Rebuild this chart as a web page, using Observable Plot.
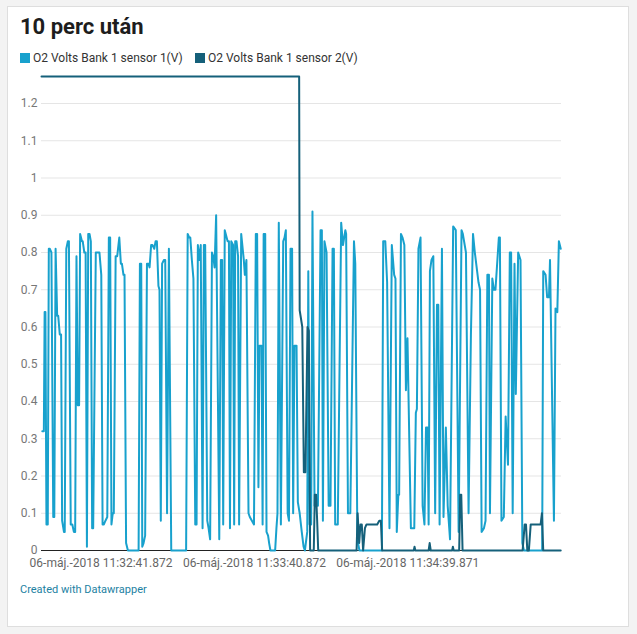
<!DOCTYPE html>
<html>
<head>
<meta charset="utf-8">
<script src="https://cdn.jsdelivr.net/npm/d3@7"></script>
<script src="https://cdn.jsdelivr.net/npm/@observablehq/plot@0.6"></script>
<style>
  html, body { margin: 0; padding: 0; background: #f3f3f3; font-family: Roboto, "Noto Sans", sans-serif; }
  #page { position: relative; width: 637px; height: 634px; overflow: hidden; }
  #card { position: absolute; left: 7px; top: 6px; width: 620px; height: 619px; background: #fff; border: 1px solid #dedede; }
  #title { position: absolute; left: 20px; top: 14px; font-size: 22px; font-weight: 700; color: #1d1d1d; white-space: nowrap; }
  .leg { position: absolute; top: 51px; font-size: 12px; color: #333; white-space: nowrap; line-height: 14px; }
  .sw { display: inline-block; width: 10px; height: 10px; margin-right: 3px; vertical-align: -1px; }
  #chart { position: absolute; left: 0; top: 70px; }
  #footer { position: absolute; left: 20px; top: 583px; font-size: 11px; color: #1d81a2; white-space: nowrap; }
</style>
</head>
<body>
<div id="page">
  <div id="card"></div>
  <div id="title"></div>
  <div id="leg1" class="leg" style="left:20px"></div>
  <div id="leg2" class="leg" style="left:195px"></div>
  <div id="chart"></div>
  <div id="footer">Created with Datawrapper</div>
</div>
<script>
const title = "10 perc után";
const seriesNames = ["O2 Volts Bank 1 sensor 1(V)", "O2 Volts Bank 1 sensor 2(V)"];
const seriesColors = ["#18a1cd", "#15607a"];

// [seconds since start, volts]
const sensor1 = [
  [0.3,0.32],[0.9,0.32],[1.2,0.64],[1.5,0.64],[1.9,0.07],[2.4,0.07],[2.8,0.81],[3.2,0.81],[3.8,0.80],[4.5,0.09],
  [4.9,0.09],[5.4,0.81],[6.0,0.63],[6.4,0.63],[7.0,0.58],[7.5,0.58],[7.9,0.08],[8.6,0.05],[8.9,0.05],[9.5,0.81],
  [10.1,0.83],[10.5,0.83],[11.2,0.07],[11.8,0.07],[12.4,0.05],[12.9,0.05],[13.4,0.79],[13.9,0.39],[14.4,0.39],[14.8,0.85],
  [15.5,0.83],[15.8,0.83],[16.4,0.80],[16.9,0.80],[17.4,0.01],[17.9,0.85],[18.4,0.85],[18.9,0.83],[19.4,0.06],[19.8,0.06],
  [20.8,0.80],[21.5,0.80],[22.2,0.80],[22.9,0.74],[23.4,0.07],[23.9,0.07],[24.5,0.08],[25.2,0.09],[25.8,0.84],[26.3,0.84],
  [26.8,0.07],[27.3,0.10],[27.7,0.10],[28.4,0.79],[29.0,0.79],[29.8,0.84],[30.4,0.77],[30.8,0.77],[31.4,0.74],[31.8,0.74],
  [32.4,0.02],[33.1,0],[37.2,0],[37.7,0.77],[38.2,0.77],[38.6,0.01],[39.1,0.02],[39.7,0.04],[40.4,0.77],[41.0,0.77],
  [41.4,0.76],[42.0,0.82],[42.5,0.82],[43.2,0.81],[43.7,0.83],[44.2,0.83],[44.8,0.71],[45.2,0.70],[45.7,0.08],[46.2,0.77],
  [46.9,0.78],[47.4,0.78],[48.1,0.10],[48.8,0.81],[49.7,0],[55.4,0],[56.0,0.85],[56.6,0.84],[57.0,0.84],[57.6,0.78],
  [58.2,0.73],[58.9,0.07],[59.4,0.07],[59.9,0.82],[60.4,0.78],[61.0,0.82],[61.7,0.06],[62.2,0.82],[62.7,0.82],[63.5,0.08],
  [64.0,0.06],[64.6,0.03],[65.3,0.80],[65.8,0.79],[66.3,0.76],[66.9,0.90],[68.1,0.03],[68.7,0.78],[69.2,0.78],[69.6,0.07],
  [70.2,0.86],[71.3,0.83],[71.8,0.83],[72.2,0.06],[72.7,0.83],[73.4,0.82],[73.8,0.07],[74.2,0.83],[74.7,0.83],[75.3,0.79],
  [75.7,0.07],[76.5,0.85],[77.5,0.78],[77.9,0.74],[78.5,0.78],[79.3,0.10],[79.8,0.09],[80.6,0.08],[81.4,0.07],[82.1,0.85],
  [82.6,0.85],[83.1,0.17],[83.5,0.55],[84.3,0.55],[84.7,0.07],[85.1,0.85],[85.7,0.85],[86.2,0.05],[86.8,0.04],[87.2,0.02],
  [87.7,0],[89.5,0],[90.0,0.06],[90.4,0.10],[90.9,0.88],[91.7,0.07],[92.6,0.83],[93.1,0.84],[93.6,0.86],[94.3,0.10],
  [94.8,0.08],[95.4,0.81],[96.0,0.81],[96.4,0.10],[96.9,0.55],[97.7,0.55],[98.2,0.13],[98.9,0.10],[99.7,0.05],[100.4,0.01],
  [100.9,0],[101.8,0.05],[102.2,0.75],[102.7,0.07],[103.3,0.07],[103.8,0.91],[104.6,0.12],[105.9,0.12],[106.9,0.86],[107.4,0.86],
  [107.8,0.08],[108.4,0.83],[109.2,0.80],[110.0,0.12],[110.7,0.12],[111.5,0.81],[112.0,0.81],[112.5,0.07],[113.5,0.07],[114.8,0.88],
  [115.5,0.82],[116.4,0.86],[116.7,0.85],[117.4,0.10],[118.3,0.10],[119.7,0.83],[120.2,0.77],[121.0,0.03],[121.8,0],[130.4,0],
  [130.9,0.83],[131.7,0.83],[132.4,0.72],[133.3,0.06],[134.2,0.82],[135.1,0.74],[135.6,0.73],[136.1,0.05],[136.7,0.15],[137.0,0.15],
  [137.7,0.85],[138.3,0.84],[139.0,0.82],[139.6,0.43],[140.2,0.57],[141.5,0.06],[142.8,0.06],[143.4,0.37],[143.8,0.38],[144.4,0.81],
  [145.2,0.84],[146.0,0.12],[146.7,0.07],[147.3,0.33],[147.9,0.33],[148.3,0.07],[148.8,0.75],[149.4,0.78],[150.1,0.79],[150.8,0.10],
  [151.5,0.66],[152.0,0.66],[152.5,0.07],[153.4,0.81],[154.0,0.09],[154.9,0.33],[155.6,0.12],[156.5,0.03],[157.7,0.87],[158.7,0.86],
  [159.8,0.05],[160.9,0.86],[161.4,0.85],[162.6,0.80],[163.6,0.10],[164.5,0.58],[165.3,0.85],[166.0,0.80],[167.4,0.72],[168.0,0.70],
  [168.6,0.05],[169.5,0.06],[170.1,0.08],[170.8,0.74],[171.4,0.74],[171.8,0.10],[172.7,0.73],[173.3,0.70],[173.9,0.70],[175.2,0.84],
  [175.6,0.84],[176.2,0.08],[177.1,0.09],[177.8,0.36],[178.7,0.23],[179.4,0.80],[179.9,0.80],[180.5,0.10],[181.2,0.77],[181.7,0.42],
  [182.6,0.80],[183.5,0.78],[184.2,0.02],[184.8,0],[191.8,0],[192.2,0.75],[193.1,0.74],[193.7,0.68],[194.4,0.68],[194.8,0.78],
  [196.3,0.08],[196.9,0.65],[197.6,0.64],[198.2,0.83],[198.9,0.81]
];

const sensor2 = [
  [0,1.2725],[98.7,1.2725],[98.9,0.645],[99.9,0.60],[100.5,0.21],[101.1,0.21],[101.9,0.60],[102.4,0.59],[102.9,0],[104.3,0],
  [104.7,0.15],[105.2,0.15],[105.6,0.08],[106.0,0],[120.7,0],[121.1,0.10],[121.7,0.02],[122.2,0.07],[122.7,0.07],[123.2,0],
  [123.9,0.06],[124.5,0.07],[128.6,0.07],[129.4,0.08],[130.0,0.08],[130.5,0],[142.6,0],[142.9,0.01],[143.2,0],[148.3,0],
  [148.7,0.02],[149.1,0],[157.3,0],[157.6,0.01],[157.9,0],[160.0,0],[160.4,0.15],[160.8,0.15],[161.3,0],[184.3,0],
  [185.1,0.07],[185.6,0.07],[186.1,0],[186.7,0],[187.4,0.07],[191.2,0.07],[191.7,0.10],[192.2,0],[198.9,0]
];

const yTicks = [0, 0.1, 0.2, 0.3, 0.4, 0.5, 0.6, 0.7, 0.8, 0.9, 1, 1.1, 1.2];
const yTickLabels = ["0","0.1","0.2","0.3","0.4","0.5","0.6","0.7","0.8","0.9","1","1.1","1.2"];
const xTickPositions = [22.8, 81.6, 140.3];
const xTickLabels = ["06-máj.-2018 11:32:41.872", "06-máj.-2018 11:33:40.872", "06-máj.-2018 11:34:39.871"];

document.getElementById("title").textContent = title;
[["leg1",0],["leg2",1]].forEach(([id,i]) => {
  const el = document.getElementById(id);
  const sw = document.createElement("span");
  sw.className = "sw"; sw.style.background = seriesColors[i];
  el.appendChild(sw);
  el.appendChild(document.createTextNode(seriesNames[i]));
});

const yMax = d3.max(sensor2, d => d[1]);
const xMax = 199.2;

const chart = Plot.plot({
  width: 637,
  height: 510,
  marginLeft: 41,
  marginRight: 76,
  marginTop: 6,
  marginBottom: 30,
  style: { fontFamily: "Roboto, sans-serif", fontSize: "12px", background: "transparent", overflow: "visible" },
  x: { domain: [0, xMax], axis: null },
  y: { domain: [0, yMax], axis: null },
  marks: [
    Plot.gridY(yTicks.filter(d => d > 0), { stroke: "#e5e5e5", strokeOpacity: 1 }),
    Plot.axisY(yTicks, { tickSize: 0, tickPadding: 4, fill: "#777", tickFormat: d => yTickLabels[yTicks.indexOf(d)] }),
    Plot.axisX(xTickPositions, { tickSize: 0, tickPadding: 8, fill: "#666", tickFormat: d => xTickLabels[xTickPositions.indexOf(d)] }),
    Plot.ruleY([0], { stroke: "#222", strokeWidth: 1 }),
    Plot.line(sensor1, { x: d => d[0], y: d => d[1], stroke: seriesColors[0], strokeWidth: 2, strokeLinejoin: "round" }),
    Plot.line(sensor2, { x: d => d[0], y: d => d[1], stroke: seriesColors[1], strokeWidth: 2, strokeLinejoin: "round" })
  ]
});
document.getElementById("chart").appendChild(chart);
</script>
</body>
</html>
